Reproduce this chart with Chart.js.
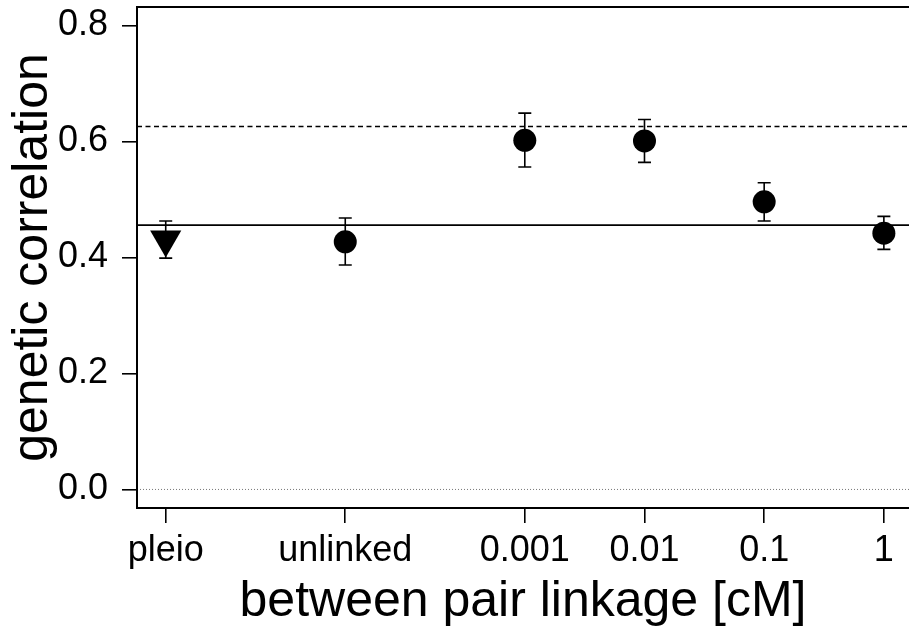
<!DOCTYPE html>
<html>
<head>
<meta charset="utf-8">
<script src="https://cdn.jsdelivr.net/npm/chart.js@4"></script>
<style>
  html, body { margin: 0; padding: 0; background: #fff; }
  #wrap { width: 909px; height: 635px; }
</style>
</head>
<body>
<div id="wrap"><canvas id="c" width="909" height="635"></canvas></div>
<script>
// categories sit on a linear axis (pleio = 0, unlinked = 1.5, then 3..6)
var xLabels = ["pleio", "unlinked", "0.001", "0.01", "0.1", "1"];
var xPos = [0, 1.5, 3, 4, 5, 6];
var yVals = [0.431, 0.427, 0.602, 0.601, 0.496, 0.442];
var yLo = [0.399, 0.387, 0.556, 0.564, 0.463, 0.414];
var yHi = [0.463, 0.468, 0.649, 0.638, 0.529, 0.471];
var yTicks = [0.0, 0.2, 0.4, 0.6, 0.8];
var refSolid = 0.456;   // solid reference line
var refDashed = 0.626;  // dashed reference line
var refZero = 0.0;      // dotted zero line

var FONT = "'Liberation Sans', Arial, Helvetica, sans-serif";

// frame, reference lines and error bars, all through the chart scales
var extras = {
  id: "extras",
  beforeDatasetsDraw: function (chart) {
    var ctx = chart.ctx, a = chart.chartArea;
    var xs = chart.scales.x, ys = chart.scales.y;
    function hline(v, dash, color, w) {
      var y = ys.getPixelForValue(v);
      ctx.save();
      ctx.strokeStyle = color; ctx.lineWidth = w; ctx.setLineDash(dash);
      ctx.beginPath(); ctx.moveTo(a.left, y); ctx.lineTo(a.right, y); ctx.stroke();
      ctx.restore();
    }
    hline(refZero, [1, 2], "#777", 1);
    hline(refDashed, [5, 3.5], "#000", 1.6);
    hline(refSolid, [], "#000", 1.8);

    ctx.save();
    ctx.strokeStyle = "#000"; ctx.lineWidth = 1.6;
    for (var i = 0; i < xPos.length; i++) {
      var px = xs.getPixelForValue(xPos[i]);
      var lo = ys.getPixelForValue(yLo[i]), hi = ys.getPixelForValue(yHi[i]);
      ctx.beginPath();
      ctx.moveTo(px, lo); ctx.lineTo(px, hi);
      ctx.moveTo(px - 6.5, lo); ctx.lineTo(px + 6.5, lo);
      ctx.moveTo(px - 6.5, hi); ctx.lineTo(px + 6.5, hi);
      ctx.stroke();
    }
    ctx.restore();
  },
  afterDraw: function (chart) {
    var ctx = chart.ctx, a = chart.chartArea;
    ctx.save();
    ctx.strokeStyle = "#000"; ctx.lineWidth = 2;
    ctx.beginPath();
    ctx.moveTo(a.right + 2, a.top); ctx.lineTo(a.left, a.top);
    ctx.lineTo(a.left, a.bottom); ctx.lineTo(a.right + 2, a.bottom);
    ctx.stroke();
    ctx.restore();
  }
};

// stop Chart.js from reserving room for overflowing tick labels
function noOverflow(s) {
  s.paddingTop = 0; s.paddingBottom = 0; s.paddingLeft = 0; s.paddingRight = 0;
}

var points = xPos.map(function (x, i) { return { x: x, y: yVals[i] }; });

new Chart(document.getElementById("c"), {
  type: "scatter",
  data: {
    datasets: [{
      data: points,
      pointStyle: xPos.map(function (x, i) { return i === 0 ? "triangle" : "circle"; }),
      rotation: xPos.map(function (x, i) { return i === 0 ? 180 : 0; }),
      pointRadius: xPos.map(function (x, i) { return i === 0 ? 18 : 11.5; }),
      pointHoverRadius: xPos.map(function (x, i) { return i === 0 ? 18 : 11.5; }),
      backgroundColor: "#000",
      borderColor: "#000",
      borderWidth: 0
    }]
  },
  options: {
    responsive: false,
    animation: false,
    devicePixelRatio: 1,
    layout: { autoPadding: false, padding: { top: 7, left: 0, right: 0, bottom: 0 } },
    plugins: { legend: { display: false }, tooltip: { enabled: false } },
    scales: {
      x: {
        type: "linear",
        min: -0.24,
        max: 6.21,
        afterBuildTicks: function (s) { s.ticks = xPos.map(function (v) { return { value: v }; }); },
        afterFit: function (s) { s.height = 127; noOverflow(s); },
        grid: { drawOnChartArea: false, drawTicks: true, tickLength: 15, color: "#000", lineWidth: 1.6 },
        border: { display: false },
        ticks: {
          color: "#000", padding: 6, maxRotation: 0, autoSkip: false,
          font: { family: FONT, size: 36 },
          callback: function (v) { var i = xPos.indexOf(v); return i < 0 ? "" : xLabels[i]; }
        },
        title: {
          display: true, text: "between pair linkage [cM]", color: "#000",
          font: { family: FONT, size: 50, lineHeight: 1 }, padding: { top: 0, bottom: 8 }
        }
      },
      y: {
        min: -0.032,
        max: 0.832,
        afterBuildTicks: function (s) { s.ticks = yTicks.map(function (v) { return { value: v }; }); },
        afterFit: function (s) { s.width = 137; noOverflow(s); },
        grid: { drawOnChartArea: false, drawTicks: true, tickLength: 15, color: "#000", lineWidth: 1.6 },
        border: { display: false },
        ticks: {
          color: "#000", padding: 14,
          font: { family: FONT, size: 36 },
          callback: function (v) { return v.toFixed(1); }
        },
        title: {
          display: true, text: "genetic correlation", color: "#000",
          font: { family: FONT, size: 50, lineHeight: 1 }, padding: { top: 8, bottom: 0 }
        }
      }
    }
  },
  plugins: [extras]
});
</script>
</body>
</html>
